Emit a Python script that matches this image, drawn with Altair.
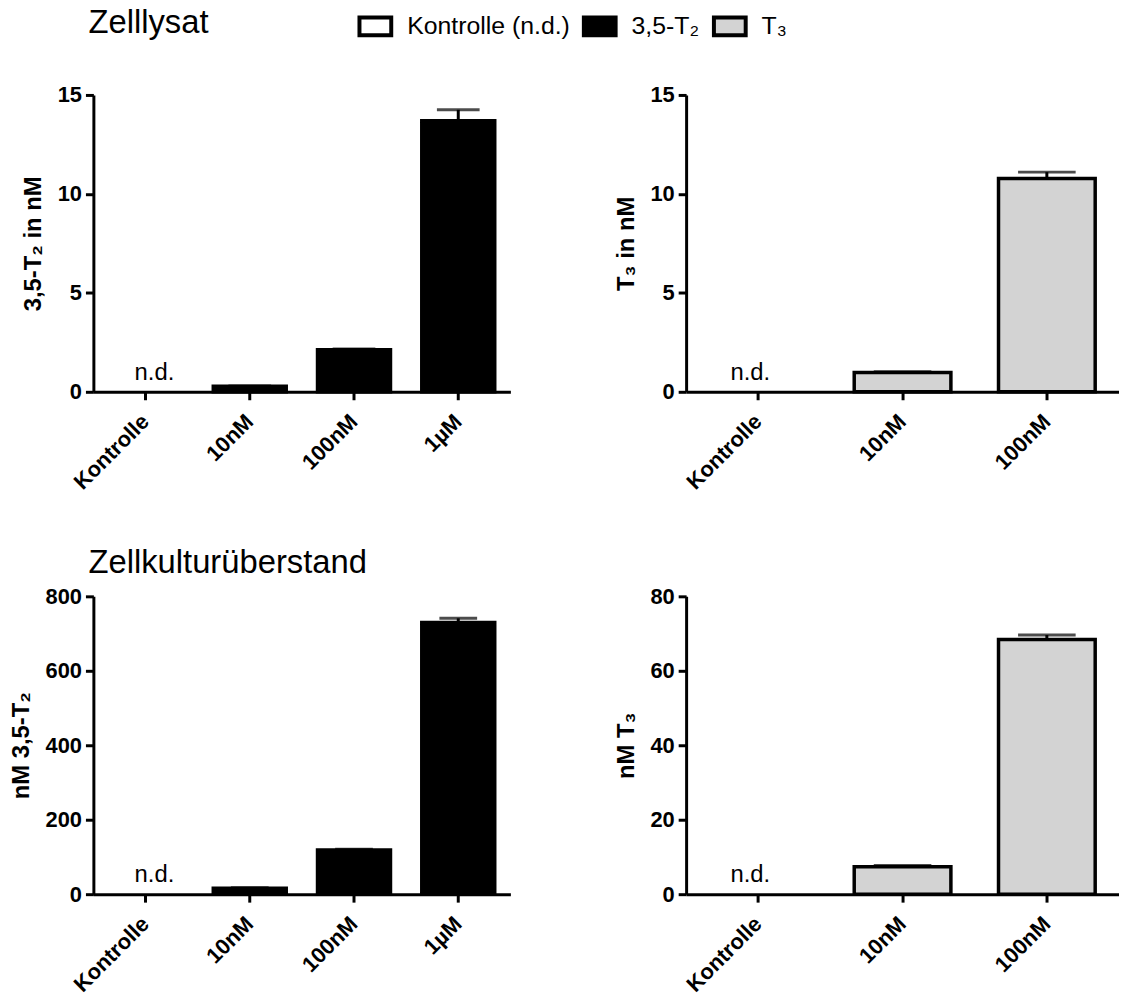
import altair as alt
import pandas as pd

FONT = "Liberation Sans"

# ---- data ----
cats_t2 = ["Kontrolle", "10nM", "100nM", "1µM"]
cats_t3 = ["Kontrolle", "10nM", "100nM"]
bar_cats_t2 = ["10nM", "100nM", "1µM"]
bar_cats_t3 = ["10nM", "100nM"]

lysat_t2_mean = [0.28, 2.13, 13.7]
lysat_t2_err = [0.02, 0.03, 0.55]
lysat_t3_mean = [0.98, 10.78]
lysat_t3_err = [0.04, 0.32]
medium_t2_mean = [16, 119, 730]
medium_t2_err = [1, 1.5, 11]
medium_t3_mean = [7.4, 68.4]
medium_t3_err = [0.3, 1.2]

legend_labels = ["Kontrolle (n.d.)", "3,5-T₂", "T₃"]
legend_colors = ["#ffffff", "#000000", "#d3d3d3"]
nd_label = "n.d."

titles = ["Zelllysat", "Zellkulturüberstand"]
y_titles = ["3,5-T₂ in nM", "T₃ in nM", "nM 3,5-T₂", "nM T₃"]
y_ticks_lysat = [0, 5, 10, 15]
y_ticks_medium_t2 = [0, 200, 400, 600, 800]
y_ticks_medium_t3 = [0, 20, 40, 60, 80]


def panel(cats, bar_cats, means, errs, series, ytitle, yticks, width, height,
          pad, cap, nd_dx, title=None, title_offset=0, legend=None):
    df = pd.DataFrame({
        "cat": bar_cats,
        "mean": means,
        "upper": [m + e for m, e in zip(means, errs)],
        "series": [series] * len(bar_cats),
    })
    nd = pd.DataFrame({"cat": [cats[0]], "label": [nd_label], "v": [0]})
    x = alt.X("cat:N", sort=cats,
              scale=alt.Scale(domain=cats, paddingInner=pad, paddingOuter=pad / 2),
              axis=alt.Axis(title=None, labelAngle=-45, labelAlign="right",
                            labelBaseline="middle", labelPadding=18))
    y = alt.Y("mean:Q",
              scale=alt.Scale(domain=[yticks[0], yticks[-1]], nice=False, zero=True),
              axis=alt.Axis(title=ytitle, values=yticks, labelPadding=4,
                            titlePadding=12))
    bars = alt.Chart(df).mark_bar(stroke="black", strokeWidth=3.5).encode(
        x=x, y=y,
        fill=alt.Fill("series:N",
                      scale=alt.Scale(domain=legend_labels, range=legend_colors),
                      legend=legend),
    )
    rule = alt.Chart(df).mark_rule(strokeWidth=3, color="black").encode(
        x=alt.X("cat:N", sort=cats), y="mean:Q", y2="upper:Q")
    capm = alt.Chart(df).mark_tick(size=cap, thickness=3, color="black").encode(
        x=alt.X("cat:N", sort=cats), y="upper:Q")
    text = alt.Chart(nd).mark_text(fontSize=24, font=FONT, align="center",
                                   baseline="alphabetic", dx=nd_dx, dy=-12,
                                   color="black").encode(
        x=alt.X("cat:N", sort=cats), y="v:Q", text="label:N")
    props = dict(width=width, height=height)
    if title is not None:
        props["title"] = alt.TitleParams(text=title, anchor="start", frame="group",
                                         fontSize=33, font=FONT, fontWeight="normal",
                                         color="black", baseline="alphabetic",
                                         offset=title_offset, dx=-5)
    return alt.layer(bars, rule, capm, text).properties(**props)


legend = alt.Legend(orient="none", legendX=-331, legendY=-87, direction="horizontal",
                    title=None, symbolType="M-1,-0.56H1V0.56H-1Z", symbolSize=1024,
                    symbolStrokeColor="black", symbolStrokeWidth=4,
                    labelFontSize=25, labelFont=FONT, labelColor="black",
                    labelLimit=0, labelOffset=14, columnPadding=6)

LW, RW = 420, 436
TH, BH = 299, 300

tl = panel(cats_t2, bar_cats_t2, lysat_t2_mean, lysat_t2_err, legend_labels[1],
           y_titles[0], y_ticks_lysat, LW, TH, 0.3, 43, 9,
           title=titles[0], title_offset=18)
tr = panel(cats_t3, bar_cats_t3, lysat_t3_mean, lysat_t3_err, legend_labels[2],
           y_titles[1], y_ticks_lysat, RW, TH, 0.33, 58, -8, legend=legend)
bl = panel(cats_t2, bar_cats_t2, medium_t2_mean, medium_t2_err, legend_labels[1],
           y_titles[2], y_ticks_medium_t2, LW, BH, 0.3, 38, 9,
           title=titles[1], title_offset=-20)
br = panel(cats_t3, bar_cats_t3, medium_t3_mean, medium_t3_err, legend_labels[2],
           y_titles[3], y_ticks_medium_t3, RW, BH, 0.33, 58, -8)

chart = alt.concat(tl, tr, bl, br, columns=2,
                   spacing={"row": 206, "column": 177},
                   bounds="flush", align="each").resolve_scale(
    x="independent", y="independent", fill="independent"
).properties(
    padding={"left": 1, "top": -4, "right": 0, "bottom": 0}
).configure(font=FONT).configure_view(stroke=None).configure_axis(
    domainColor="black", domainWidth=3, tickColor="black", tickWidth=3, tickSize=8,
    labelFont=FONT, labelFontSize=22, labelFontWeight="bold", labelColor="black",
    titleFont=FONT, titleFontSize=24, titleFontWeight="bold", titleColor="black",
    grid=False,
)

chart.save("out.html", embed_options={"renderer": "svg", "actions": False})
